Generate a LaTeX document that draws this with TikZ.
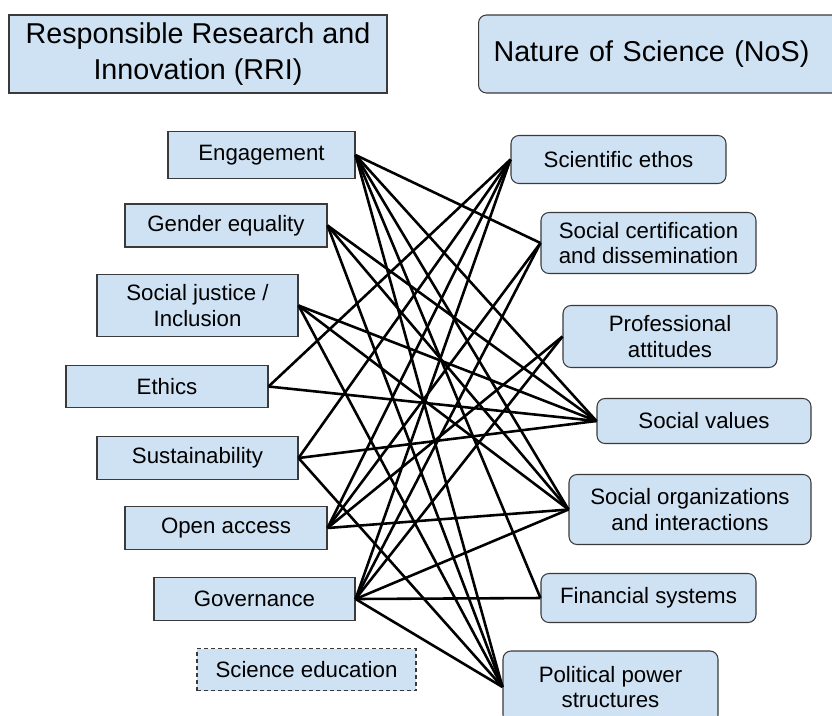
\documentclass[tikz,border=0pt]{standalone}
\usepackage{fontspec}
\setmainfont{Liberation Sans}
\definecolor{boxblue}{HTML}{CFE2F3}
\definecolor{boxline}{HTML}{3A3A3A}
\begin{document}
\begin{tikzpicture}[x=0.3mm, y=-0.3mm, line width=2.2pt,
    sqbox/.style={draw=boxline, line width=0.9pt, fill=boxblue, align=center, inner sep=0pt, font=\fontsize{19}{22}\selectfont},
    rdbox/.style={sqbox, rounded corners=2.4mm},
    head/.style={font=\fontsize{24.5}{30.5}\selectfont, minimum height=23.4mm}]
	% 1. 画布范围 (像素坐标, 1px = 0.3mm)
	\clip (0,0) rectangle (832,715);
	\fill[white] (0,0) rectangle (832,715);
	
	% 2. 标题
	\node[sqbox, head, minimum width=113.4mm] (rri) at (198,54) {Responsible Research and\\Innovation (RRI)};
	\node[rdbox, head, anchor=west, align=left, text width=103mm, inner xsep=4.5mm] (nos) at (478,54) {Nature of Science (NoS)};
	
	% 3. RRI 一侧
	\node[sqbox, minimum width=56.1mm, minimum height=14.1mm] (eng) at (261.5,155) {Engagement};
	\node[sqbox, minimum width=60.6mm, minimum height=12.9mm] (gen) at (226,225.5) {Gender equality};
	\node[sqbox, minimum width=60.3mm, minimum height=18.6mm] (jus) at (197.5,305.5) {Social justice /\\Inclusion};
	\node[sqbox, minimum width=60.6mm, minimum height=12.6mm] (eth) at (167,386.5) {Ethics};
	\node[sqbox, minimum width=60.3mm, minimum height=12.9mm] (sus) at (197.5,458) {Sustainability};
	\node[sqbox, minimum width=60.6mm, minimum height=12.9mm] (oa) at (226,528) {Open access};
	\node[sqbox, minimum width=60.3mm, minimum height=12.9mm] (gov) at (254.5,599) {Governance};
	\node[sqbox, dashed, dash pattern=on 1.2mm off 0.9mm, minimum width=65.7mm, minimum height=12.6mm] (sed) at (306.5,669.5) {Science education};
	
	% 4. NoS 一侧
	\node[rdbox, minimum width=64.5mm, minimum height=14.4mm] (sci) at (618.5,159.5) {Scientific ethos};
	\node[rdbox, minimum width=64.5mm, minimum height=18.3mm] (cert) at (648.5,243) {Social certification\\and dissemination};
	\node[rdbox, minimum width=64.2mm, minimum height=18.6mm] (prof) at (670,336.5) {Professional\\attitudes};
	\node[rdbox, minimum width=64.2mm, minimum height=13.5mm] (val) at (704,421) {Social values};
	\node[rdbox, minimum width=72.6mm, minimum height=21mm] (org) at (690,509.5) {Social organizations\\and interactions};
	\node[rdbox, minimum width=64.5mm, minimum height=14.7mm] (fin) at (648.5,598) {Financial systems};
	\node[rdbox, minimum width=64.5mm, minimum height=21.6mm] (pol) at (610.5,687) {Political power\\structures};
	
	% 5. 连线
	\foreach \a/\b in {eng/cert, eng/val, eng/org, eng/fin, eng/pol,
	                   gen/val, gen/org, gen/pol,
	                   jus/val, jus/org, jus/pol,
	                   eth/sci, eth/val,
	                   sus/sci, sus/val, sus/pol,
	                   oa/sci, oa/cert, oa/prof, oa/org,
	                   gov/sci, gov/cert, gov/prof, gov/org, gov/fin, gov/pol}
		\draw (\a.east) -- (\b.west);
\end{tikzpicture}
\end{document}
